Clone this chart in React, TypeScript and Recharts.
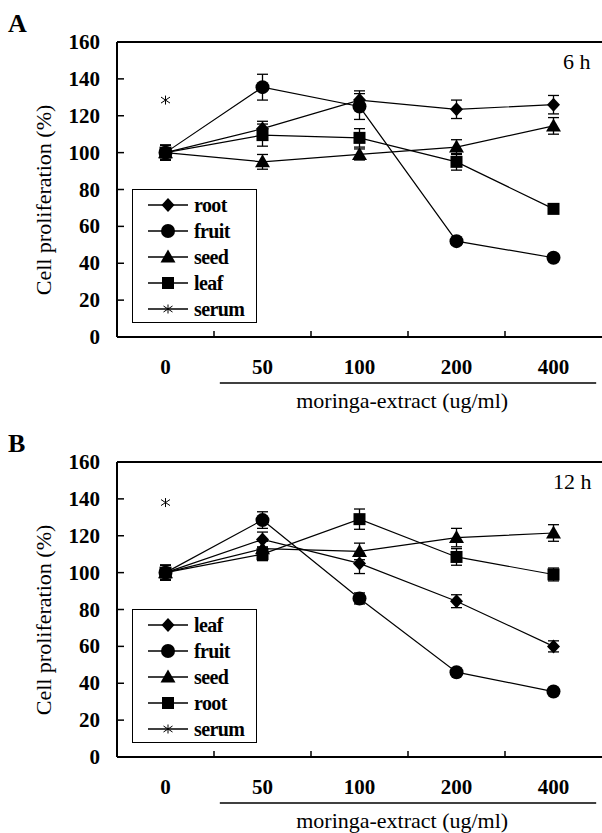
import React from 'react';
import { LineChart, Line, XAxis, YAxis, ErrorBar, Legend, ReferenceLine, Label } from 'recharts';

const FONT = '"Liberation Serif", "Times New Roman", serif';

// dose categories and axis ticks
const doses = ['0', '50', '100', '200', '400'];
const yTicks = [0, 20, 40, 60, 80, 100, 120, 140, 160];

// panel A, 6 h
const rootA = [100, 113, 128.5, 123.5, 126];
const rootAErr = [4, 4, 5, 5, 5];
const fruitA = [100, 135.5, 125, 52, 43];
const fruitAErr = [4, 7, 7, 2, 2];
const seedA = [100, 95, 99, 103, 114.5];
const seedAErr = [4, 4, 3, 4, 4.5];
const leafA = [100, 109.5, 108, 95, 69.5];
const leafAErr = [4, 6, 5, 4.5, 2.5];
const serumA = [128.5, null, null, null, null];

// panel B, 12 h
const leafB = [100, 118, 105, 84.5, 60];
const leafBErr = [4, 4, 5.5, 3.5, 3];
const fruitB = [100, 128.5, 86, 46, 35.5];
const fruitBErr = [4, 4.5, 3, 1.5, 1.5];
const seedB = [100, 113, 111.5, 119, 121.5];
const seedBErr = [4, 4, 4.5, 5, 4.5];
const rootB = [100, 110, 129, 108.5, 99];
const rootBErr = [4, 3.5, 5.5, 4.5, 3.5];
const serumB = [138, null, null, null, null];

type Shape = 'diamond' | 'circle' | 'triangle' | 'square' | 'star';
interface Series {
  key: string;
  name: string;
  shape: Shape;
  values: (number | null)[];
  errors?: number[];
}

const seriesA: Series[] = [
  { key: 'root', name: 'root', shape: 'diamond', values: rootA, errors: rootAErr },
  { key: 'fruit', name: 'fruit', shape: 'circle', values: fruitA, errors: fruitAErr },
  { key: 'seed', name: 'seed', shape: 'triangle', values: seedA, errors: seedAErr },
  { key: 'leaf', name: 'leaf', shape: 'square', values: leafA, errors: leafAErr },
  { key: 'serum', name: 'serum', shape: 'star', values: serumA },
];

const seriesB: Series[] = [
  { key: 'leaf', name: 'leaf', shape: 'diamond', values: leafB, errors: leafBErr },
  { key: 'fruit', name: 'fruit', shape: 'circle', values: fruitB, errors: fruitBErr },
  { key: 'seed', name: 'seed', shape: 'triangle', values: seedB, errors: seedBErr },
  { key: 'root', name: 'root', shape: 'square', values: rootB, errors: rootBErr },
  { key: 'serum', name: 'serum', shape: 'star', values: serumB },
];

const Marker = ({ shape, cx, cy }: { shape: Shape; cx: number; cy: number }) => {
  switch (shape) {
    case 'diamond':
      return <polygon points={`${cx},${cy - 7} ${cx + 6.5},${cy} ${cx},${cy + 7} ${cx - 6.5},${cy}`} fill="#000" />;
    case 'circle':
      return <circle cx={cx} cy={cy} r={7} fill="#000" />;
    case 'triangle':
      return <polygon points={`${cx},${cy - 7.5} ${cx + 7.5},${cy + 5.5} ${cx - 7.5},${cy + 5.5}`} fill="#000" />;
    case 'square':
      return <rect x={cx - 6} y={cy - 6} width={12} height={12} fill="#000" />;
    default:
      return (
        <g stroke="#000" strokeWidth={1}>
          <line x1={cx} y1={cy - 4.5} x2={cx} y2={cy + 4.5} />
          <line x1={cx - 4.5} y1={cy - 3} x2={cx + 4.5} y2={cy + 3} />
          <line x1={cx - 4.5} y1={cy + 3} x2={cx + 4.5} y2={cy - 3} />
        </g>
      );
  }
};

// boundary ticks at integers, dose labels at band centres
const xTickValues = doses.flatMap((_, i) => (i === 0 ? [0.5] : [i, i + 0.5]));

const XTick = (props: any) => {
  const { x, y, payload } = props;
  const v = payload.value;
  if (Number.isInteger(v)) {
    return <line x1={x} y1={y} x2={x} y2={y - 6} stroke="#000" strokeWidth={1.5} />;
  }
  return (
    <text x={x} y={y + 37} textAnchor="middle" fontFamily={FONT} fontWeight="bold" fontSize={21} fill="#000">
      {doses[Math.round(v - 0.5)]}
    </text>
  );
};

const YTick = (props: any) => {
  const { x, y, payload } = props;
  return (
    <g>
      <line x1={x} y1={y} x2={x + 7} y2={y} stroke="#000" strokeWidth={1.5} />
      <text x={x - 17} y={y + 7} textAnchor="end" fontFamily={FONT} fontWeight="bold" fontSize={21} fill="#000">
        {payload.value}
      </text>
    </g>
  );
};

const XLabel = (props: any) => {
  const vb = props.viewBox || { x: 117, y: 337, width: 485, height: 76 };
  return (
    <g>
      <line x1={vb.x + vb.width * 0.212} y1={vb.y + 46} x2={vb.x + vb.width * 0.988} y2={vb.y + 46} stroke="#000" strokeWidth={1.5} />
      <text x={vb.x + vb.width * 0.588} y={vb.y + 71} textAnchor="middle" fontFamily={FONT} fontSize={22} fill="#000">
        moringa-extract (ug/ml)
      </text>
    </g>
  );
};

const YLabel = (props: any) => {
  const vb = props.viewBox || { x: 0, y: 42, width: 117, height: 295 };
  const x = vb.x + 51;
  const y = vb.y + 158;
  return (
    <text x={x} y={y} transform={`rotate(-90 ${x} ${y})`} textAnchor="middle" fontFamily={FONT} fontSize={22} fill="#000">
      Cell proliferation (%)
    </text>
  );
};

const makeLegend = (series: Series[]) => (props: any) => {
  const payload: any[] = props.payload || [];
  const rows = series.map((s) => {
    const entry = payload.find((p) => p.dataKey === s.key);
    return { ...s, label: entry ? entry.value : s.name };
  });
  return (
    <div style={{ paddingTop: 2 }}>
      {rows.map((r) => (
        <div key={r.key} style={{ display: 'flex', alignItems: 'center', height: 26 }}>
          <svg width={60} height={26} style={{ flex: 'none' }}>
            <line x1={15} y1={13} x2={55} y2={13} stroke="#000" strokeWidth={1.5} />
            <Marker shape={r.shape} cx={35} cy={13} />
          </svg>
          <span style={{ fontFamily: FONT, fontWeight: 'bold', fontSize: 20, lineHeight: '20px', letterSpacing: -0.6, marginLeft: 1 }}>
            {r.label}
          </span>
        </div>
      ))}
    </div>
  );
};

const Panel = ({ series, height }: { series: Series[]; height: number }) => {
  const data = doses.map((d, i) => {
    const row: Record<string, any> = { x: i + 0.5, dose: d };
    series.forEach((s) => {
      row[s.key] = s.values[i];
      if (s.errors) row[s.key + 'Err'] = s.errors[i];
    });
    return row;
  });

  return (
    <LineChart width={602} height={height} data={data} margin={{ top: 42, right: 0, bottom: 0, left: 0 }}>
      <XAxis
        dataKey="x"
        type="number"
        domain={[0, 5]}
        ticks={xTickValues}
        interval={0}
        tick={<XTick />}
        tickLine={false}
        tickSize={0}
        tickMargin={0}
        height={height - 337}
        axisLine={{ stroke: '#000', strokeWidth: 2 }}
      >
        <Label content={<XLabel />} />
      </XAxis>
      <YAxis
        type="number"
        domain={[0, 160]}
        ticks={yTicks}
        interval={0}
        allowDataOverflow
        tick={<YTick />}
        tickLine={false}
        tickSize={0}
        tickMargin={0}
        width={117}
        axisLine={{ stroke: '#000', strokeWidth: 2 }}
      >
        <Label content={<YLabel />} />
      </YAxis>
      <ReferenceLine y={160} stroke="#000" strokeWidth={2} />
      {series.map((s) => (
        <Line
          key={s.key}
          dataKey={s.key}
          name={s.name}
          stroke="#000"
          strokeWidth={1.2}
          isAnimationActive={false}
          activeDot={false}
          connectNulls={false}
          dot={(p: any) =>
            p.value == null || p.cx == null ? (
              <g key={`${s.key}-${p.index}`} />
            ) : (
              <Marker key={`${s.key}-${p.index}`} shape={s.shape} cx={p.cx} cy={p.cy} />
            )
          }
        >
          {s.errors && (
            <ErrorBar dataKey={s.key + 'Err'} width={5.5} stroke="#000" strokeWidth={1.3} direction="y" isAnimationActive={false} />
          )}
        </Line>
      ))}
      <Legend
        layout="vertical"
        align="center"
        verticalAlign="middle"
        content={makeLegend(series)}
        wrapperStyle={{
          left: 132,
          top: 189,
          width: 125,
          height: 134,
          boxSizing: 'border-box',
          border: '1.5px solid #000',
          background: '#fff',
          margin: 0,
        }}
      />
    </LineChart>
  );
};

const textStyle = (size: number, bold: boolean): React.CSSProperties => ({
  position: 'absolute',
  fontFamily: FONT,
  fontSize: size,
  fontWeight: bold ? 'bold' : 'normal',
  lineHeight: `${size}px`,
  whiteSpace: 'nowrap',
  color: '#000',
});

export default function App() {
  return (
    <div style={{ position: 'absolute', left: 0, top: 0, width: 602, height: 833, background: '#fff', overflow: 'hidden' }}>
      <div style={{ position: 'absolute', left: 0, top: 0, width: 602, height: 420 }}>
        <Panel series={seriesA} height={420} />
        <div style={{ ...textStyle(26, true), left: 8, top: 11 }}>A</div>
        <div style={{ ...textStyle(22, false), left: 563, top: 51 }}>6 h</div>
      </div>
      <div style={{ position: 'absolute', left: 0, top: 420, width: 602, height: 413 }}>
        <Panel series={seriesB} height={413} />
        <div style={{ ...textStyle(26, true), left: 8, top: 11 }}>B</div>
        <div style={{ ...textStyle(22, false), left: 553, top: 51 }}>12 h</div>
      </div>
    </div>
  );
}
